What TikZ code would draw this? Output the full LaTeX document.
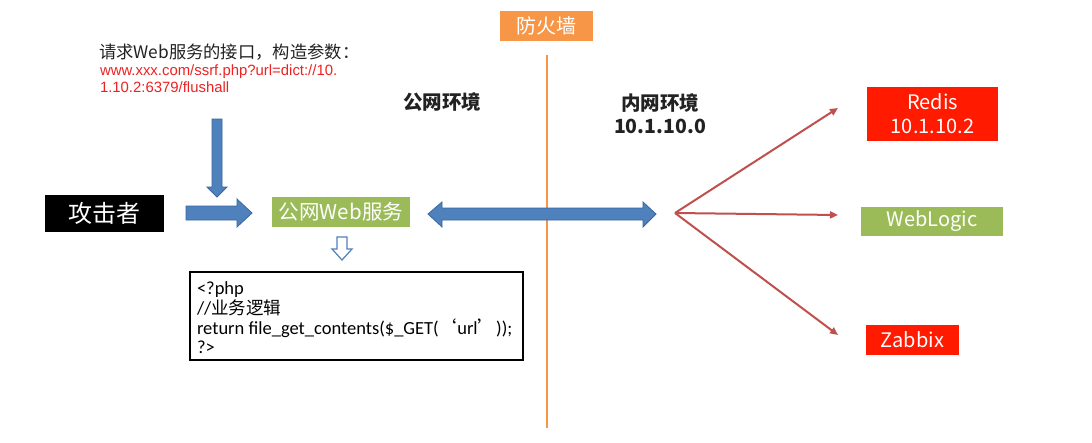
\documentclass[tikz,border=0pt]{standalone}
\usepackage{fontspec}
\setmainfont{Liberation Sans}
\newfontfamily\cjk{Noto Sans CJK SC}
\newfontfamily\calfont{Carlito}
\usetikzlibrary{calc,arrows.meta}
\definecolor{fwor}{HTML}{F79646}
\definecolor{okgreen}{HTML}{9BBB59}
\definecolor{blk}{HTML}{4F81BD}
\definecolor{blkd}{HTML}{3A67A0}
\definecolor{boxred}{HTML}{FF1A00}
\definecolor{linered}{HTML}{C0504D}
\definecolor{urlred}{HTML}{EE2222}
\definecolor{ink}{HTML}{222222}
\begin{document}
\begin{tikzpicture}[x=1pt,y=-1pt,
  every node/.style={inner sep=0pt,outer sep=0pt},
  filledbox/.style={text=white,align=center,font=\cjk\fontsize{#1}{#1}\selectfont},
  blockarrow/.style={fill=blk,draw=blkd,line width=0.8pt,line join=miter},
  hollowarrow/.style={fill=white,draw=blk,line width=1.2pt,line join=miter},
  redline/.style={draw=linered,line width=2pt,-{Triangle[length=8pt,width=7pt]}},
  fwline/.style={draw=fwor,line width=2.5pt}]
\path[use as bounding box,fill=white] (0,0) rectangle (1092,442);

% firewall
\node[fill=fwor,minimum width=93pt,minimum height=30pt,filledbox=20] (fw) at (546.5,26) {防火墙};
\coordinate (fwend) at (547,428);
\draw[fwline] ($(fw.south)+(0.5,14)$) -- (fwend);

% left texts
\node[anchor=west,text=ink,font=\cjk\fontsize{17.3}{17.3}\selectfont] (req) at (99,52) {请求Web服务的接口，构造参数：};
\node[anchor=north west,align=left,text=urlred,font=\fontsize{14.9}{16.5}\selectfont] (url) at (100,65) {www.xxx.com/ssrf.php?url=dict://10.\\1.10.2:6379/flushall};

% boxes
\node[fill=black,minimum width=119pt,minimum height=37pt,filledbox=24] (att) at (104.5,213.5) {攻击者};
\node[fill=okgreen,minimum width=138pt,minimum height=30pt,filledbox=20.5] (web) at (341,212) {公网Web服务};
\node[fill=boxred,minimum width=131pt,minimum height=54pt,filledbox=20,font=\cjk\fontsize{20}{24}\selectfont] (redis) at (932.5,114) {Redis\\10.1.10.2};
\node[fill=okgreen,minimum width=142pt,minimum height=29pt,filledbox=20] (wl) at (932,221.5) {WebLogic};
\node[fill=boxred,minimum width=93pt,minimum height=30pt,filledbox=20] (zb) at (912.5,340) {Zabbix};

% region labels
\node[text=ink,font=\cjk\bfseries\fontsize{19.5}{19.5}\selectfont] (pub) at (442,102) {公网环境};
\node[text=ink,align=center,font=\cjk\bfseries\fontsize{19.5}{23}\selectfont] (priv) at (660,114) {内网环境\\10.1.10.0};

% code box
\node[draw=black,line width=1.5pt,minimum width=333pt,minimum height=88pt] (code) at (356.5,316) {};
\node[anchor=north west,align=left,font=\calfont\fontsize{18.5}{19.7}\selectfont] (codetxt) at ($(code.north west)+(7,10)$)
 {<?php\\//{\cjk\fontsize{17.5}{19.7}\selectfont 业务逻辑}\\return file\_get\_contents(\$\_GET({\cjk ‘}url{\cjk ’}));\\?>};

% block arrows
\draw[blockarrow] (212,119) -- (222,119) -- (222,187) -- (227,187) -- (217,197) -- (207,187) -- (212,187) -- cycle;
\draw[blockarrow] (186,206) -- (237,206) -- (237,199) -- (252,213) -- (237,227) -- (237,220) -- (186,220) -- cycle;
\draw[blockarrow] (428,214) -- (442,202) -- (442,208) -- (643,208) -- (643,202) -- (656,214) -- (643,227) -- (643,220) -- (442,220) -- (442,227) -- cycle;
\draw[hollowarrow] (337,237) -- (347,237) -- (347,249) -- (352,249) -- (342,260) -- (332,249) -- (337,249) -- cycle;

% red fan
\coordinate (hub) at (675,213);
\coordinate (tR) at (838,108);
\coordinate (tW) at (838,215);
\coordinate (tZ) at (838,335);
\draw[redline] (hub) -- (tR);
\draw[redline] (hub) -- (tW);
\draw[redline] (hub) -- (tZ);
\end{tikzpicture}
\end{document}
